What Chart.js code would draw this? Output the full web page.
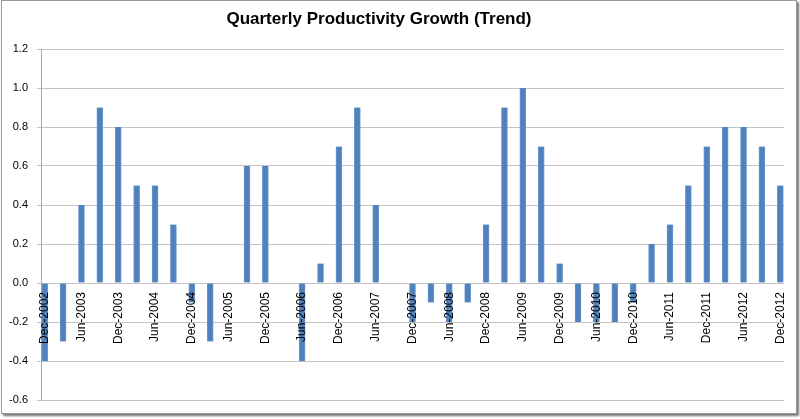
<!DOCTYPE html>
<html>
<head>
<meta charset="utf-8">
<script src="https://cdn.jsdelivr.net/npm/chart.js@4/dist/chart.umd.min.js"></script>
<style>
  html, body { margin: 0; padding: 0; background: #fff; }
  #frame {
    position: absolute; left: 1px; top: 0; width: 794px; height: 412px;
    border: 1px solid #9a9a9a; background: #fff;
    box-shadow: 2px 2px 2px rgba(0, 0, 0, 0.55);
  }
  #title {
    position: absolute; left: 0; top: 8px; width: 754px; text-align: center;
    font: bold 17px "Liberation Sans", Arial, sans-serif; color: #000;
  }
  #chart { position: absolute; left: 0; top: 0; }
</style>
</head>
<body>
<div id="frame">
  <canvas id="chart" width="794" height="412"></canvas>
  <div id="title">Quarterly Productivity Growth (Trend)</div>
</div>
<script>
// Quarterly bars, Dec-2002 .. Dec-2012; axis labels every second quarter.
const quarters = [
  'Dec-2002', 'Mar-2003', 'Jun-2003', 'Sep-2003', 'Dec-2003', 'Mar-2004', 'Jun-2004', 'Sep-2004',
  'Dec-2004', 'Mar-2005', 'Jun-2005', 'Sep-2005', 'Dec-2005', 'Mar-2006', 'Jun-2006', 'Sep-2006',
  'Dec-2006', 'Mar-2007', 'Jun-2007', 'Sep-2007', 'Dec-2007', 'Mar-2008', 'Jun-2008', 'Sep-2008',
  'Dec-2008', 'Mar-2009', 'Jun-2009', 'Sep-2009', 'Dec-2009', 'Mar-2010', 'Jun-2010', 'Sep-2010',
  'Dec-2010', 'Mar-2011', 'Jun-2011', 'Sep-2011', 'Dec-2011', 'Mar-2012', 'Jun-2012', 'Sep-2012',
  'Dec-2012',
];
const growth = [
  -0.4, -0.3, 0.4, 0.9, 0.8, 0.5, 0.5, 0.3,
  -0.1, -0.3, 0, 0.6, 0.6, 0, -0.4, 0.1,
  0.7, 0.9, 0.4, 0, -0.2, -0.1, -0.2, -0.1,
  0.3, 0.9, 1.0, 0.7, 0.1, -0.2, -0.2, -0.2,
  -0.1, 0.2, 0.3, 0.5, 0.7, 0.8, 0.8, 0.7,
  0.5,
];
const tickLabels = [
  'Dec-2002', 'Jun-2003', 'Dec-2003', 'Jun-2004', 'Dec-2004', 'Jun-2005', 'Dec-2005',
  'Jun-2006', 'Dec-2006', 'Jun-2007', 'Dec-2007', 'Jun-2008', 'Dec-2008', 'Jun-2009',
  'Dec-2009', 'Jun-2010', 'Dec-2010', 'Jun-2011', 'Dec-2011', 'Jun-2012', 'Dec-2012',
];
const yMin = -0.6;
const yMax = 1.2;
const yStep = 0.2;

const gridGray = '#c4c4c4';
const fontFamily = '"Liberation Sans", Arial, sans-serif';

new Chart(document.getElementById('chart'), {
  type: 'bar',
  data: {
    datasets: [
      {
        label: 'Productivity growth',
        data: growth.map((v, i) => ({ x: i, y: v })),
        backgroundColor: '#4F81BD',
        borderColor: '#6d97cb',
        borderWidth: { left: 1, right: 1, top: 0, bottom: 0 },
        borderSkipped: false,
        barThickness: 6,
      },
    ],
  },
  options: {
    responsive: false,
    animation: false,
    layout: { padding: { left: 0, right: 12, top: 48, bottom: 13 } },
    scales: {
      x: {
        type: 'linear',
        position: { y: 0 },
        offset: false,
        min: -0.2,
        max: 40.2,
        // the rotated end labels would otherwise pull the plot in from the right
        afterFit: (scale) => { scale.paddingLeft = 0; scale.paddingRight = 0; },
        grid: { display: false, drawTicks: false, offset: false },
        border: { display: false },
        ticks: {
          z: 1, // labels sit on top of the bars, as in the original
          stepSize: 2,
          includeBounds: false,
          autoSkip: false,
          minRotation: 90,
          maxRotation: 90,
          padding: 9,
          color: '#000',
          font: { family: fontFamily, size: 12 },
          callback: (v) => (Number.isInteger(v) && v % 2 === 0 ? tickLabels[v / 2] : ''),
        },
      },
      y: {
        min: yMin,
        max: yMax,
        afterFit: (scale) => {
          scale.width = 39;
          scale.paddingTop = 0;
          scale.paddingBottom = 0;
        },
        grid: { color: gridGray, lineWidth: 1, tickLength: 4, tickColor: gridGray },
        border: { display: true, color: '#a8a8a8' },
        ticks: {
          stepSize: yStep,
          padding: 9,
          color: '#000',
          font: { family: fontFamily, size: 11 },
          callback: (v) => v.toFixed(1),
        },
      },
    },
    plugins: {
      legend: { display: false },
      tooltip: {
        callbacks: {
          title: (items) => (items.length ? quarters[items[0].parsed.x] : ''),
        },
      },
    },
  },
});
</script>
</body>
</html>
